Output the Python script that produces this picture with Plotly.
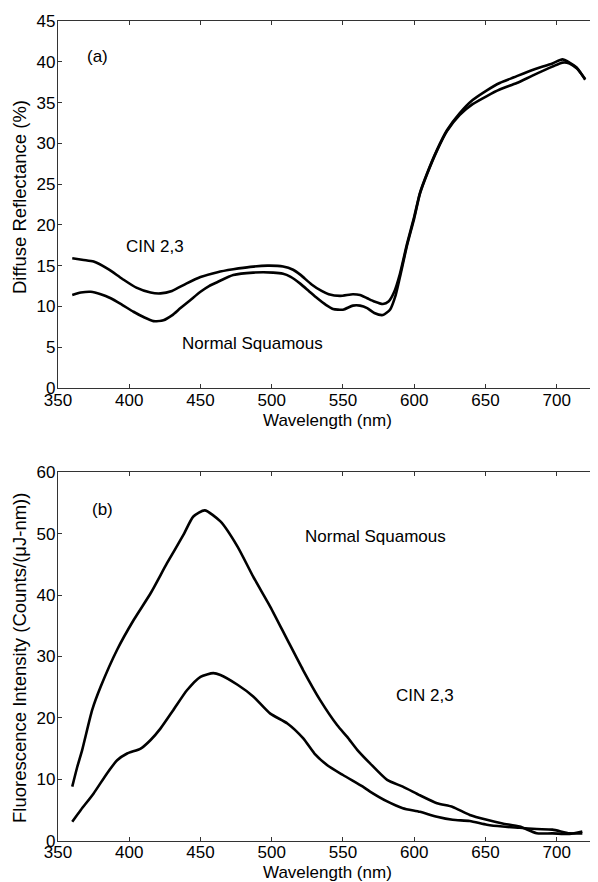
import plotly.graph_objects as go

# ---------------- Panel (a): diffuse reflectance ----------------
wl_a_cin = [360, 368, 375, 385, 395, 405, 415, 422, 430, 440, 450, 462, 473, 485, 497, 508,
            515, 520, 528, 535, 540, 548, 557, 562, 567, 572, 578, 582, 586, 590, 595, 600,
            604, 609, 616, 623, 632, 641, 651, 660, 670, 683, 697, 704, 709, 714, 717, 720]
refl_cin = [15.9, 15.7, 15.5, 14.6, 13.4, 12.3, 11.7, 11.6, 11.9, 12.8, 13.6, 14.2, 14.55, 14.85, 15.0, 14.9,
            14.5, 13.9, 12.7, 11.9, 11.5, 11.3, 11.5, 11.4, 11.0, 10.6, 10.3, 10.6, 11.8, 14.0, 17.7, 21.0,
            23.9, 26.3, 29.2, 31.6, 33.7, 35.3, 36.5, 37.4, 38.1, 39.0, 39.8, 40.3, 39.9, 39.3, 38.6, 37.8]

wl_a_norm = [360, 366, 373, 380, 387, 395, 403, 410, 417, 424, 430, 436, 443, 450, 456, 462,
             473, 487, 501, 508, 513, 520, 526, 532, 538, 543, 550, 557, 562, 567, 572, 578,
             583, 587, 590, 595, 600, 604, 609, 616, 623, 632, 641, 651, 660, 672, 683, 697,
             704, 709, 714, 717, 720]
refl_norm = [11.4, 11.7, 11.8, 11.5, 11.0, 10.2, 9.35, 8.7, 8.2, 8.3, 8.9, 9.8, 10.8, 11.8, 12.5, 13.0,
             13.85, 14.15, 14.15, 14.0, 13.65, 12.8, 11.9, 11.0, 10.2, 9.7, 9.6, 10.1, 10.1, 9.8, 9.2, 8.95,
             9.6, 11.4, 13.6, 17.5, 20.8, 23.8, 26.2, 29.1, 31.5, 33.5, 34.8, 35.8, 36.6, 37.4, 38.3, 39.4,
             39.9, 39.8, 39.2, 38.6, 37.9]

# ---------------- Panel (b): fluorescence ----------------
wl_b_norm = [360, 363.5, 367, 374, 380, 391.5, 403, 415, 426.5, 438, 445, 453, 464, 476, 487,
             499, 511, 522, 534, 546, 553, 560, 569, 581, 592, 604, 616, 627, 639, 651, 662,
             674, 686, 697, 709, 718]
fluor_norm = [8.8, 12.0, 14.8, 21.3, 25.1, 31.1, 35.9, 40.3, 45.2, 49.8, 52.8, 53.8, 52.0, 47.9, 43.0,
              38.1, 32.7, 27.8, 22.9, 18.8, 16.9, 14.8, 12.6, 9.9, 8.8, 7.4, 6.1, 5.5, 4.2, 3.4, 2.8,
              2.3, 1.2, 1.2, 1.1, 1.5]

wl_b_cin = [360, 366, 375, 384.5, 391.5, 398.5, 408, 415, 422, 431, 440.5, 450, 459, 464,
            476, 487, 499, 511, 522, 530, 539, 550, 564, 569, 581, 592, 604, 616, 627, 639,
            651, 662, 674, 686, 697, 709, 718]
fluor_cin = [3.1, 5.0, 7.7, 11.0, 13.1, 14.2, 15.0, 16.4, 18.3, 21.3, 24.5, 26.7, 27.3, 27.0,
             25.4, 23.5, 20.7, 19.1, 16.7, 14.2, 12.3, 10.7, 8.8, 8.0, 6.4, 5.3, 4.7, 3.9, 3.4, 3.2,
             2.6, 2.3, 2.1, 1.9, 1.8, 1.2, 1.2]

x_ticks = [350, 400, 450, 500, 550, 600, 650, 700]

FONT = "Liberation Sans, Arial, sans-serif"
OFF = 8                      # page body margin in the browser
W, H = 598 - OFF, 882 - OFF  # figure size so that it ends at the window edge


def px_x(px):
    return (px - OFF) / W


def px_y(py):
    return 1 - (py - OFF) / H


fig = go.Figure()
line = dict(color="black", width=2.6, shape="spline", smoothing=0.6)
fig.add_trace(go.Scatter(x=wl_a_cin, y=refl_cin, mode="lines", line=line, xaxis="x", yaxis="y", showlegend=False))
fig.add_trace(go.Scatter(x=wl_a_norm, y=refl_norm, mode="lines", line=line, xaxis="x", yaxis="y", showlegend=False))
fig.add_trace(go.Scatter(x=wl_b_norm, y=fluor_norm, mode="lines", line=line, xaxis="x2", yaxis="y2", showlegend=False))
fig.add_trace(go.Scatter(x=wl_b_cin, y=fluor_cin, mode="lines", line=line, xaxis="x2", yaxis="y2", showlegend=False))

axis_common = dict(showgrid=False, zeroline=False, showline=True, linecolor="#333333", linewidth=1.3,
                   mirror="ticks", ticks="inside", ticklen=4, tickcolor="#333333", tickwidth=1,
                   automargin=False,
                   tickfont=dict(family=FONT, size=17, color="black"))
xaxis_common = dict(axis_common, ticklabelstandoff=-4)
yaxis_common = dict(axis_common, ticklabelstandoff=-2)

xdom = [px_x(58), 1.0]
fig.update_layout(
    template="none",
    width=W, height=H,
    margin=dict(l=0, r=0, t=0, b=0, pad=0),
    paper_bgcolor="white", plot_bgcolor="white",
    font=dict(family=FONT, size=17, color="black"),
    xaxis=dict(domain=xdom, range=[350, 729], tickvals=x_ticks, anchor="y", **xaxis_common),
    yaxis=dict(domain=[px_y(388), px_y(21)], range=[0, 45], dtick=5, anchor="x", **yaxis_common),
    xaxis2=dict(domain=xdom, range=[350, 729], tickvals=x_ticks, anchor="y2", **xaxis_common),
    yaxis2=dict(domain=[px_y(840.7), px_y(472.3)], range=[0, 60], dtick=10, anchor="x2", **yaxis_common),
)


def ann(text, x, y, xref, yref, size=17, angle=0):
    fig.add_annotation(text=text, x=x, y=y, xref=xref, yref=yref, showarrow=False,
                       font=dict(family=FONT, size=size, color="black"), textangle=angle,
                       xanchor="center", yanchor="middle")


# panel labels and series labels
ann("(a)", 377.7, 40.6, "x", "y")
ann("CIN 2,3", 418.3, 17.3, "x", "y")
ann("Normal Squamous", 486.6, 5.5, "x", "y")
ann("(b)", 381.2, 53.9, "x2", "y2")
ann("Normal Squamous", 573.0, 49.5, "x2", "y2")
ann("CIN 2,3", 607.5, 23.7, "x2", "y2")

# axis titles
ann("Wavelength (nm)", px_x(327), px_y(420), "paper", "paper")
ann("Wavelength (nm)", px_x(327), px_y(872), "paper", "paper")
ann("Diffuse Reflectance (%)", px_x(19), px_y(197), "paper", "paper", size=18.5, angle=-90)
ann("Fluorescence Intensity (Counts/(μJ-nm))", px_x(19), px_y(658), "paper", "paper", size=18.5, angle=-90)

fig.write_html("out.html")
